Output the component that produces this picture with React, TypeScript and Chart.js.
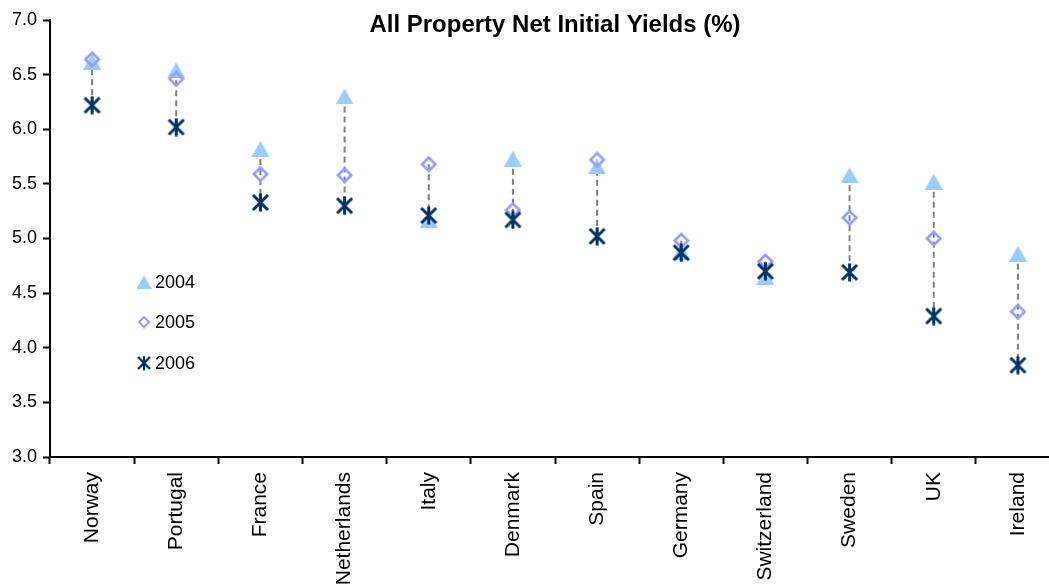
import React, { useEffect, useRef } from 'react';
import { Chart, registerables } from 'chart.js';

Chart.register(...registerables);

const categories = ['Norway', 'Portugal', 'France', 'Netherlands', 'Italy', 'Denmark', 'Spain', 'Germany', 'Switzerland', 'Sweden', 'UK', 'Ireland'];
const yields2004 = [6.62, 6.54, 5.82, 6.30, 5.17, 5.73, 5.66, 4.88, 4.65, 5.58, 5.52, 4.86];
const yields2005 = [6.64, 6.46, 5.59, 5.58, 5.68, 5.26, 5.72, 4.98, 4.79, 5.19, 5.00, 4.33];
const yields2006 = [6.22, 6.02, 5.33, 5.30, 5.21, 5.17, 5.02, 4.87, 4.70, 4.69, 4.29, 3.84];
const seriesLabels = ['2004', '2005', '2006'];
const titleText = 'All Property Net Initial Yields (%)';
const yMin = 3.0;
const yMax = 7.0;
const yStep = 0.5;

const FONT = '"Liberation Sans", Arial, sans-serif';
const COL_TRI = '#99CCFF';
const COL_DIA = '#9999FF';
const COL_STAR = '#003366';

function makeTriangle(w: number, h: number, color: string) {
  const c = document.createElement('canvas');
  c.width = w; c.height = h;
  const ctx = c.getContext('2d')!;
  ctx.fillStyle = color;
  ctx.beginPath();
  ctx.moveTo(w / 2, 0);
  ctx.lineTo(w, h);
  ctx.lineTo(0, h);
  ctx.closePath();
  ctx.fill();
  return c;
}

function makeDiamond(s: number, color: string, lw: number) {
  const c = document.createElement('canvas');
  c.width = s; c.height = s;
  const ctx = c.getContext('2d')!;
  ctx.strokeStyle = color;
  ctx.lineWidth = lw;
  const m = lw / 2 + 0.5;
  ctx.beginPath();
  ctx.moveTo(s / 2, m);
  ctx.lineTo(s - m, s / 2);
  ctx.lineTo(s / 2, s - m);
  ctx.lineTo(m, s / 2);
  ctx.closePath();
  ctx.stroke();
  return c;
}

function makeStar(s: number, color: string, lw: number) {
  const c = document.createElement('canvas');
  c.width = s; c.height = s;
  const ctx = c.getContext('2d')!;
  ctx.strokeStyle = color;
  ctx.lineWidth = lw;
  ctx.lineCap = 'butt';
  const m = 2;
  ctx.beginPath();
  ctx.moveTo(m, m); ctx.lineTo(s - m, s - m);
  ctx.moveTo(s - m, m); ctx.lineTo(m, s - m);
  ctx.moveTo(s / 2, 0.5); ctx.lineTo(s / 2, s - 0.5);
  ctx.stroke();
  return c;
}

export default function App() {
  const ref = useRef<HTMLCanvasElement | null>(null);

  useEffect(() => {
    if (!ref.current) return;
    Chart.defaults.color = '#000';
    Chart.defaults.font.family = FONT;

    const tri = makeTriangle(18, 16, COL_TRI);
    const dia = makeDiamond(17, COL_DIA, 2.6);
    const star = makeStar(19, COL_STAR, 3);
    const markers = [tri, dia, star];

    const highLow = {
      id: 'highLow',
      beforeDatasetsDraw(chart: any) {
        const { ctx } = chart;
        const xs = chart.scales.x;
        const ys = chart.scales.y;
        const sets = chart.data.datasets;
        ctx.save();
        ctx.strokeStyle = '#808080';
        ctx.lineWidth = 2;
        ctx.setLineDash([6, 4]);
        for (let i = 0; i < categories.length; i++) {
          const vals = sets.map((d: any) => d.data[i] as number);
          const hi = Math.max(...vals);
          const lo = Math.min(...vals);
          const x = xs.getPixelForValue(i);
          ctx.beginPath();
          ctx.moveTo(x, ys.getPixelForValue(hi));
          ctx.lineTo(x, ys.getPixelForValue(lo));
          ctx.stroke();
        }
        ctx.restore();
      },
    };

    const titleAndLegend = {
      id: 'titleAndLegend',
      afterDraw(chart: any) {
        const { ctx, chartArea } = chart;
        ctx.save();
        ctx.fillStyle = '#000';
        ctx.font = `bold 24px ${FONT}`;
        ctx.textAlign = 'center';
        ctx.textBaseline = 'alphabetic';
        ctx.fillText(titleText, (chartArea.left + chartArea.right) / 2, 32);

        const lx = chartArea.left + 94;
        const rows = [262, 302, 343];
        const sizes = [[15, 13], [13, 13], [15, 15]];
        ctx.font = `18px ${FONT}`;
        ctx.textAlign = 'left';
        ctx.textBaseline = 'middle';
        seriesLabels.forEach((lab, k) => {
          const y = chartArea.top + rows[k];
          const [w, h] = sizes[k];
          ctx.drawImage(markers[k], lx - w / 2, y - h / 2, w, h);
          ctx.fillText(lab, lx + 11, y + 1);
        });
        ctx.restore();
      },
    };

    const chart = new Chart(ref.current, {
      type: 'line',
      data: {
        labels: categories,
        datasets: [
          { label: seriesLabels[0], data: yields2004, showLine: false, pointStyle: tri as any, pointRadius: 8, order: 3 },
          { label: seriesLabels[1], data: yields2005, showLine: false, pointStyle: dia as any, pointRadius: 8, order: 2 },
          { label: seriesLabels[2], data: yields2006, showLine: false, pointStyle: star as any, pointRadius: 9, order: 1 },
        ],
      },
      options: {
        animation: false,
        responsive: false,
        devicePixelRatio: 1,
        layout: { padding: { top: 20, right: 10, left: 0, bottom: 0 } },
        plugins: {
          legend: { display: false },
          title: { display: false },
          tooltip: { enabled: false },
        },
        scales: {
          x: {
            type: 'category',
            offset: true,
            grid: { display: true, drawOnChartArea: false, offset: true, tickLength: 7, tickWidth: 2, tickColor: '#000' },
            border: { display: true, color: '#000', width: 2 },
            ticks: { minRotation: 90, maxRotation: 90, autoSkip: false, padding: 8, color: '#000', font: { size: 21, family: FONT } },
            afterFit: (s: any) => { s.height = 143; },
          },
          y: {
            min: yMin,
            max: yMax,
            grid: { display: true, drawOnChartArea: false, tickLength: 7, tickWidth: 2, tickColor: '#000' },
            border: { display: true, color: '#000', width: 2 },
            ticks: { stepSize: yStep, padding: 6, color: '#000', font: { size: 18, family: FONT }, callback: (v: any) => Number(v).toFixed(1) },
            afterFit: (s: any) => { s.width = 50; },
          },
        },
      },
      plugins: [highLow, titleAndLegend],
    });
    return () => chart.destroy();
  }, []);

  return (
    <div style={{ position: 'absolute', left: 0, top: 0, width: 1049, height: 584, overflow: 'hidden', background: '#fff' }}>
      <canvas ref={ref} width={1070} height={600} style={{ width: 1070, height: 600, display: 'block' }} />
    </div>
  );
}
